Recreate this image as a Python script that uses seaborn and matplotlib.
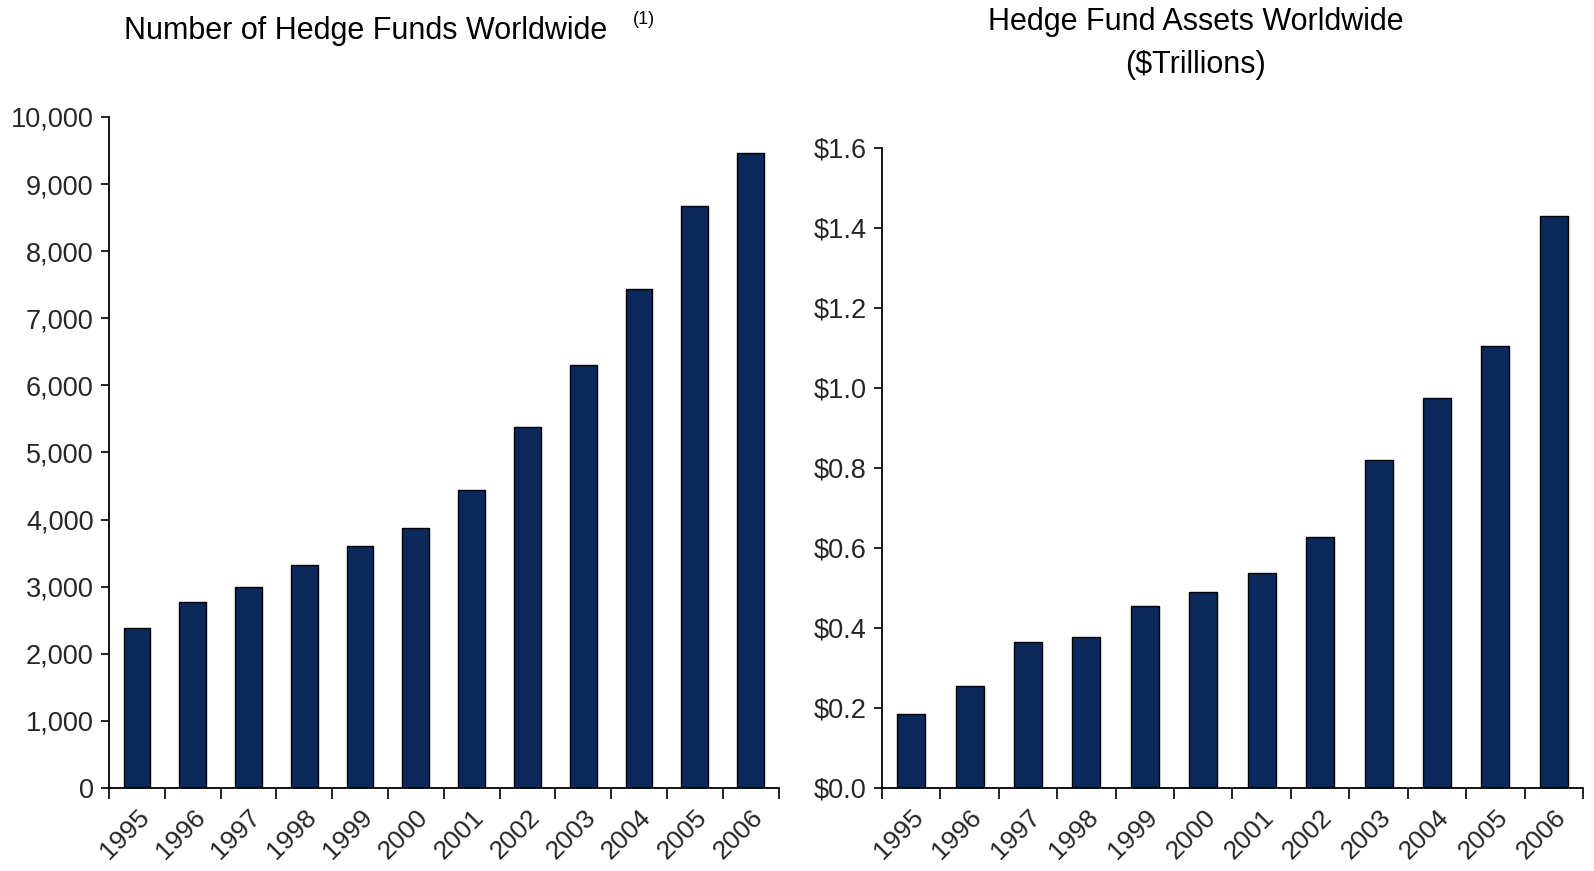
import numpy as np
import pandas as pd
import matplotlib
matplotlib.use("Agg")
import matplotlib.pyplot as plt
import seaborn as sns
from matplotlib.ticker import FuncFormatter

# Data
years = ["1995", "1996", "1997", "1998", "1999", "2000",
         "2001", "2002", "2003", "2004", "2005", "2006"]
num_funds = [2380, 2770, 2990, 3320, 3610, 3880,
             4440, 5380, 6300, 7440, 8670, 9470]
assets_tn = [0.186, 0.254, 0.366, 0.377, 0.455, 0.491,
             0.537, 0.628, 0.819, 0.975, 1.104, 1.430]

left_title = "Number of Hedge Funds Worldwide"
left_note = "(1)"
right_title = "Hedge Fund Assets Worldwide\n($Trillions)"

bar_color = "#0A2859"

sns.set_theme(style="white")
plt.rcParams['font.family'] = ['Liberation Sans', 'DejaVu Sans']

df = pd.DataFrame({"year": years, "funds": num_funds, "assets": assets_tn})

fig = plt.figure(figsize=(15.94, 8.71), dpi=100)
ax1 = fig.add_axes([0.0684, 0.0953, 0.4200, 0.7704])
ax2 = fig.add_axes([0.5533, 0.0953, 0.4398, 0.7348])


def style_axis(ax, ymax, ystep, fmt):
    n = len(years)
    ax.set_xlim(-0.5, n - 0.5)
    ax.set_ylim(0, ymax)
    ax.set_yticks(np.arange(0, ymax + ystep / 2, ystep))
    ax.yaxis.set_major_formatter(FuncFormatter(fmt))
    # ticks at category boundaries, labels at the centres
    ax.set_xticks(np.arange(-0.5, n, 1.0))
    ax.set_xticklabels([])
    ax.set_xticks(np.arange(n), minor=True)
    ax.set_xticklabels(years, minor=True, rotation=45, ha="right",
                       rotation_mode="anchor", fontsize=19)
    ax.tick_params(axis="x", which="major", direction="out", length=8,
                   width=1.2, color="black", bottom=True)
    ax.tick_params(axis="x", which="minor", length=0, pad=12)
    ax.tick_params(axis="y", direction="out", length=6, width=1.2,
                   color="black", left=True, labelsize=19.5, pad=5)
    for s in ["top", "right"]:
        ax.spines[s].set_visible(False)
    for s in ["left", "bottom"]:
        ax.spines[s].set_color("black")
        ax.spines[s].set_linewidth(1.3)
    ax.set_xlabel("")
    ax.set_ylabel("")
    ax.grid(False)


sns.barplot(data=df, x="year", y="funds", ax=ax1, color=bar_color,
            width=0.48, edgecolor="black", linewidth=1, saturation=1)
style_axis(ax1, 10000, 1000, lambda v, p: f"{v:,.0f}")

sns.barplot(data=df, x="year", y="assets", ax=ax2, color=bar_color,
            width=0.48, edgecolor="black", linewidth=1, saturation=1)
style_axis(ax2, 1.6, 0.2, lambda v, p: f"${v:.1f}")

# titles
fig.text(0.0775, 0.964, left_title, fontsize=22, ha="left", va="center",
         color="black")
fig.text(0.397, 0.978, left_note, fontsize=13, ha="left", va="center",
         color="black")
fig.text(0.750, 0.950, right_title, fontsize=22, ha="center", va="center",
         linespacing=1.55, color="black")

fig.savefig("out.png", dpi=100)
